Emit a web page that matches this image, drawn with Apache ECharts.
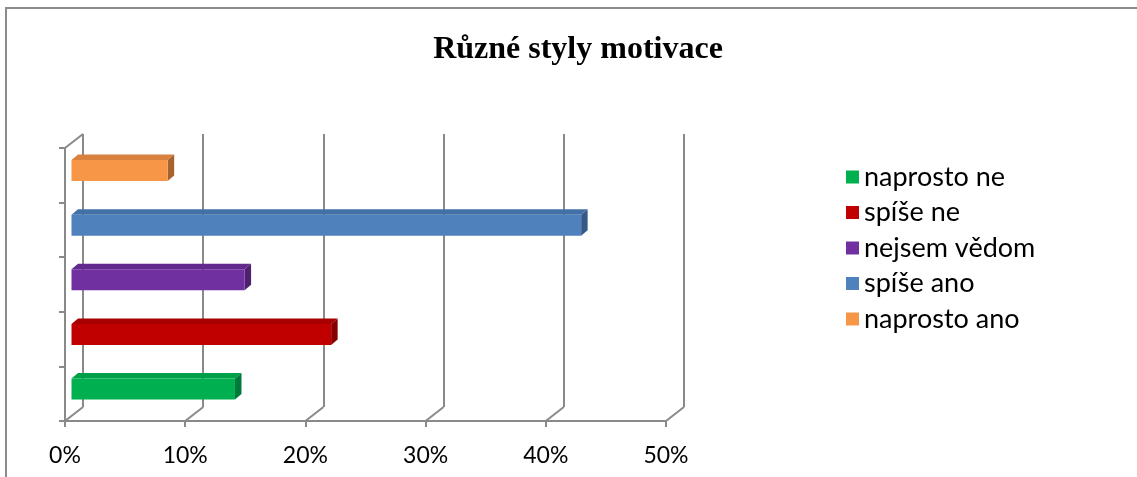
<!DOCTYPE html>
<html>
<head>
<meta charset="utf-8">
<script src="https://cdn.jsdelivr.net/npm/echarts@6/dist/echarts.min.js"></script>
<style>
  html, body { margin: 0; padding: 0; background: #fff; }
  #chart { width: 1137px; height: 477px; }
</style>
</head>
<body>
<div id="chart"></div>
<script>
// data
var categories = ['naprosto ne', 'spíše ne', 'nejsem vědom', 'spíše ano', 'naprosto ano'];
var values = [13.6, 21.6, 14.4, 42.4, 8.0];
var ticks = [0, 10, 20, 30, 40, 50];
var colors = ['#00B050', '#C00000', '#7030A0', '#4F81BD', '#F79646'];
var topColors = ['#00A048', '#A80000', '#622A8C', '#4370A6', '#D98240'];
var sideColors = ['#007A38', '#860000', '#4E2170', '#365A88', '#A8622E'];

var lineColor = '#898989';
var depthX = 18, depthY = -14; // wall depth
var barDX = 6.5, barDY = -4.7; // bar position inside depth
var bx = 6.5, by = -5.5;      // bar thickness

var chart = echarts.init(document.getElementById('chart'));

function barRender(i) {
	return function (params, api) {
		var p0 = api.coord([0, api.value(1)]);
		var p1 = api.coord([api.value(0), api.value(1)]);
		var band = api.size([0, 1])[1];
		var h = band * 0.385;
		var x0 = p0[0] + barDX, x1 = p1[0] + barDX;
		var yt = p0[1] + barDY - h / 2, yb = yt + h;
		return {
			type: 'group',
			children: [
				{ type: 'polygon', shape: { points: [[x0, yt], [x1, yt], [x1 + bx, yt + by], [x0 + bx, yt + by]] },
				  style: { fill: topColors[i] } },
				{ type: 'polygon', shape: { points: [[x1, yt], [x1 + bx, yt + by], [x1 + bx, yb + by], [x1, yb]] },
				  style: { fill: sideColors[i] } },
				{ type: 'rect', shape: { x: x0, y: yt, width: x1 - x0, height: h },
				  style: { fill: colors[i] } }
			]
		};
	};
}

var series = [];
// floor diagonals + top-left edge
series.push({
	type: 'custom',
	xAxisIndex: 0, yAxisIndex: 0,
	silent: true,
	z: 1,
	data: ticks.map(function (t) { return [t, 0]; }),
	renderItem: function (params, api) {
		var cs = params.coordSys;
		var x = api.coord([api.value(0), 0])[0];
		var yb = cs.y + cs.height;
		var children = [{ type: 'line', shape: { x1: x, y1: yb, x2: x + depthX, y2: yb + depthY },
			style: { stroke: lineColor, lineWidth: 2 } }];
		if (params.dataIndex === 0) {
			children.push({ type: 'line', shape: { x1: cs.x, y1: cs.y, x2: cs.x + depthX, y2: cs.y + depthY },
				style: { stroke: lineColor, lineWidth: 2 } });
		}
		return { type: 'group', children: children };
	}
});
categories.forEach(function (c, i) {
	series.push({
		name: c,
		type: 'custom',
		xAxisIndex: 0, yAxisIndex: 0,
		z: 5,
		itemStyle: { color: colors[i] },
		data: [[values[i], i]],
		renderItem: barRender(i)
	});
});

var option = {
	animation: false,
	title: {
		text: 'Různé styly motivace',
		left: 573,
		textAlign: 'center',
		top: 29,
		textStyle: { fontFamily: 'Liberation Serif', fontWeight: 'bold', fontSize: 32, color: '#000' }
	},
	legend: {
		orient: 'vertical',
		left: 841,
		top: 158,
		icon: 'rect',
		itemWidth: 13,
		itemHeight: 13,
		itemGap: 7.5,
		data: categories,
		textStyle: { fontFamily: 'Lato', fontSize: 27, color: '#000', lineHeight: 28 }
	},
	graphic: [{
		type: 'rect',
		shape: { x: 6, y: 8, width: 1200, height: 600 },
		style: { fill: 'none', stroke: '#8c8c8c', lineWidth: 2 },
		silent: true
	}],
	grid: [
		{ left: 65, top: 148, width: 601, height: 273 },
		{ left: 65 + depthX, top: 148 + depthY, width: 601, height: 273 }
	],
	xAxis: [{
		gridIndex: 0,
		type: 'value',
		min: 0, max: 50, interval: 10,
		axisLine: { show: true, lineStyle: { color: lineColor, width: 2 } },
		axisTick: { show: true, length: 6, lineStyle: { color: lineColor, width: 2 } },
		splitLine: { show: false },
		axisLabel: { formatter: '{value}%', margin: 23, fontFamily: 'Lato', fontSize: 23, color: '#000' }
	}, {
		gridIndex: 1,
		type: 'value',
		min: 0, max: 50, interval: 10,
		axisLine: { show: false },
		axisTick: { show: false },
		axisLabel: { show: false },
		splitLine: { show: true, lineStyle: { color: lineColor, width: 2 } }
	}],
	yAxis: [{
		gridIndex: 0,
		type: 'category',
		data: categories,
		boundaryGap: true,
		axisLine: { show: true, lineStyle: { color: lineColor, width: 2 } },
		axisTick: { show: true, length: 6, lineStyle: { color: lineColor, width: 2 } },
		axisLabel: { show: false }
	}, {
		gridIndex: 1,
		type: 'category',
		data: categories,
		axisLine: { show: false },
		axisTick: { show: false },
		axisLabel: { show: false }
	}],
	series: series
};

chart.setOption(option);
window.onresize = chart.resize;
</script>
</body>
</html>
